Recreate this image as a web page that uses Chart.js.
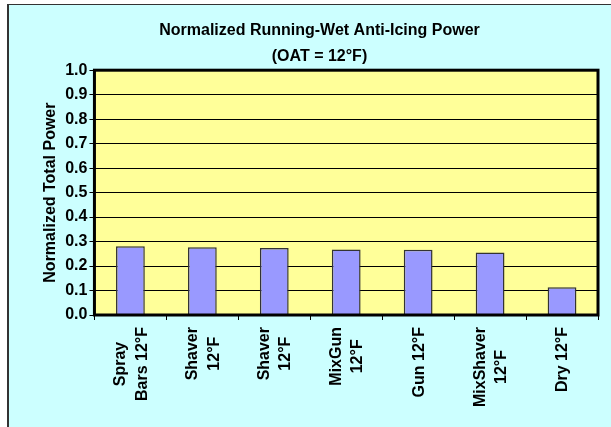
<!DOCTYPE html>
<html>
<head>
<meta charset="utf-8">
<script src="https://cdn.jsdelivr.net/npm/chart.js@4"></script>
<style>
html,body{margin:0;padding:0;background:#fff;}
#frame{position:absolute;left:7px;top:4px;width:602px;height:422px;background:#CCFFFF;border-left:2px solid #333;border-top:1px solid #333;}
#wrap{position:absolute;left:0;top:0;width:602px;height:422px;}
</style>
</head>
<body>
<div id="frame"><div id="wrap"><canvas id="c"></canvas></div></div>
<script>
const categories = [
  ["Spray", "Bars 12°F"],
  ["Shaver", "12°F"],
  ["Shaver", "12°F"],
  ["MixGun", "12°F"],
  ["Gun 12°F"],
  ["MixShaver", "12°F"],
  ["Dry 12°F"]
];
const powerValues = [0.281, 0.277, 0.274, 0.268, 0.267, 0.255, 0.113];
const titleLines = ["Normalized Running-Wet Anti-Icing Power", "(OAT = 12°F)"];
const yAxisTitle = "Normalized Total Power";

const FONT = "'Liberation Sans', Arial, sans-serif";
const LABEL_FONT = "bold 16px " + FONT;

const plotDecor = {
  id: 'plotDecor',
  beforeDraw(chart) {
    const a = chart.chartArea, ctx = chart.ctx;
    ctx.save();
    ctx.fillStyle = '#FFFF99';
    ctx.fillRect(a.left, a.top, a.right - a.left, a.bottom - a.top);
    ctx.restore();
  },
  afterDatasetsDraw(chart) {
    const a = chart.chartArea, ctx = chart.ctx;
    ctx.save();
    ctx.strokeStyle = '#000';
    ctx.lineWidth = 3;
    ctx.strokeRect(a.left, a.top, a.right - a.left, a.bottom - a.top);
    ctx.restore();
  },
  afterDraw(chart) {
    // category labels: rotated, block top-aligned under the axis, lines centred within the block
    const xs = chart.scales.x, a = chart.chartArea, ctx = chart.ctx;
    const labels = chart.data.labels;
    const lineGap = 21.5;
    ctx.save();
    ctx.font = LABEL_FONT;
    ctx.fillStyle = '#000';
    ctx.textAlign = 'center';
    ctx.textBaseline = 'middle';
    const top = a.bottom + 12;
    labels.forEach((lab, i) => {
      const lines = Array.isArray(lab) ? lab : [lab];
      const w = Math.max(...lines.map(l => ctx.measureText(l).width));
      const cx = xs.getPixelForTick(i);
      const cy = top + w / 2;
      lines.forEach((line, j) => {
        const off = (j - (lines.length - 1) / 2) * lineGap;
        ctx.save();
        ctx.translate(cx + off, cy);
        ctx.rotate(-Math.PI / 2);
        ctx.fillText(line, 0, 1);
        ctx.restore();
      });
    });
    ctx.restore();
  }
};

new Chart(document.getElementById('c'), {
  type: 'bar',
  data: {
    labels: categories,
    datasets: [{
      data: powerValues,
      backgroundColor: '#9999FF',
      borderColor: '#333333',
      borderWidth: 1.5,
      categoryPercentage: 1.0,
      barPercentage: 0.4
    }]
  },
  options: {
    responsive: true,
    maintainAspectRatio: false,
    animation: false,
    layout: { padding: { left: 32, right: 13, top: 0, bottom: 107 } },
    plugins: {
      legend: { display: false },
      tooltip: { enabled: false },
      title: {
        display: true,
        text: titleLines,
        color: '#000',
        font: { family: FONT, size: 16, weight: 'bold', lineHeight: 1.6 },
        padding: { top: 13, bottom: 1 }
      }
    },
    scales: {
      x: {
        offset: true,
        grid: { display: true, drawOnChartArea: false, drawTicks: true, tickLength: 5, color: '#000', lineWidth: 1, offset: true },
        border: { display: false },
        ticks: { display: false, autoSkip: false }
      },
      y: {
        min: 0,
        max: 1,
        grid: { color: '#000', lineWidth: 1, tickLength: 5 },
        border: { display: false },
        ticks: {
          stepSize: 0.1,
          color: '#000',
          padding: 2,
          font: { family: FONT, size: 16, weight: 'bold' },
          callback: v => Number(v).toFixed(1)
        },
        title: {
          display: true,
          text: yAxisTitle,
          color: '#000',
          font: { family: FONT, size: 16, weight: 'bold' },
          padding: { top: 0, bottom: 3 }
        }
      }
    }
  },
  plugins: [plotDecor]
});
</script>
</body>
</html>
